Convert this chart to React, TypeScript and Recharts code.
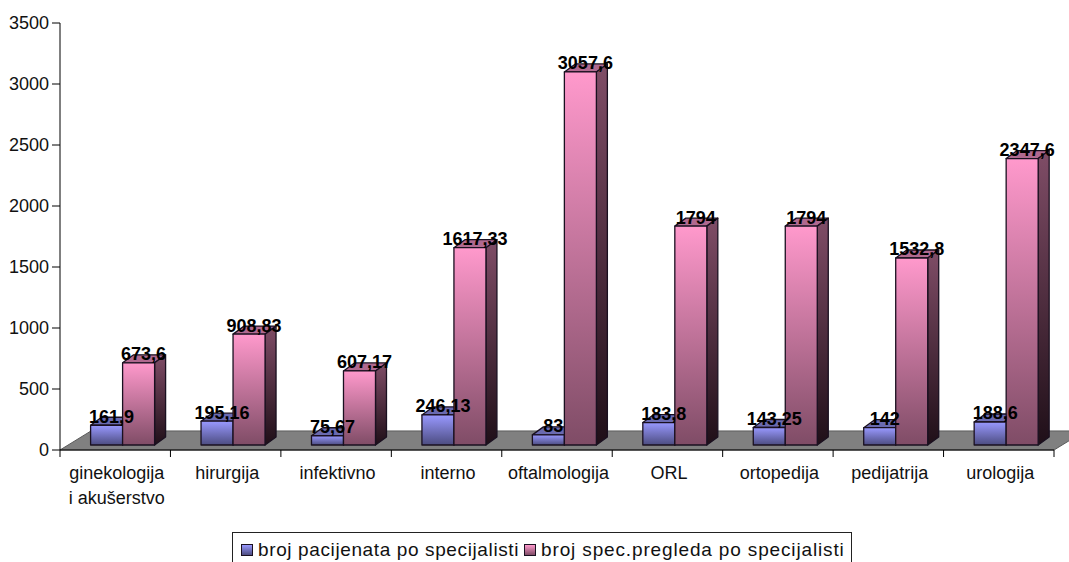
import React from "react";
import { BarChart, Bar, XAxis, YAxis, Legend, LabelList, ReferenceArea } from "recharts";

const categories = ["ginekologija\ni akušerstvo", "hirurgija", "infektivno", "interno", "oftalmologija", "ORL", "ortopedija", "pedijatrija", "urologija"];
const patients = [161.9, 195.16, 75.67, 246.13, 83, 183.8, 143.25, 142, 188.6];
const exams = [673.6, 908.83, 607.17, 1617.33, 3057.6, 1794, 1794, 1532.8, 2347.6];
const yTicks = [0, 500, 1000, 1500, 2000, 2500, 3000, 3500];
const patientsName = "broj pacijenata po specijalisti";
const examsName = "broj spec.pregleda po specijalisti";

const data = categories.map((c, i) => ({ c, patients: patients[i], exams: exams[i] }));

const FONT = '"Liberation Sans", Arial, sans-serif';
const SHIFT_X = 7.6;
const SHIFT_Y = -5;
const DX = 11;
const DY = -8;
const BAND = 994 / 9;

const comma = (v: number) => String(v).replace(".", ",");

function Bar3D(props: any) {
  const { x, y, width, height, kind } = props;
  const l = x + SHIFT_X;
  const t = y + SHIFT_Y;
  const r = l + width;
  const b = t + height;
  const pts = (a: number[][]) => a.map((p) => p.join(",")).join(" ");
  const line = { stroke: "#1a1020", strokeWidth: 1.3, strokeLinejoin: "round" as const };
  return (
    <g>
      <polygon points={pts([[l, t], [r, t], [r + DX, t + DY], [l + DX, t + DY]])} fill={kind === "p" ? "#6a6ab0" : "#b0698f"} {...line} />
      <polygon points={pts([[r, t], [r + DX, t + DY], [r + DX, b + DY], [r, b]])} fill={`url(#side-${kind})`} {...line} />
      <rect x={l} y={t} width={width} height={height} fill={`url(#front-${kind})`} {...line} />
    </g>
  );
}

function Floor(props: any) {
  const { x, y, width, height } = props;
  const d = 31;
  const pts = [[x, y + height], [x + width, y + height], [x + width + d, y], [x + d, y]].map((p) => p.join(",")).join(" ");
  return <polygon points={pts} fill="#808080" stroke="#5a5a5a" strokeWidth={1} />;
}

function ValueLabel(props: any) {
  const { x, y, width, value } = props;
  return (
    <text x={x + width / 2 + SHIFT_X + 5} y={y - 13.5} textAnchor="middle" dominantBaseline="central"
      fontFamily={FONT} fontSize={18} fontWeight="bold" fill="#000">
      {comma(value)}
    </text>
  );
}

function CategoryTick(props: any) {
  const { x, payload, index } = props;
  const lines = String(payload.value).split("\n");
  const last = index === categories.length - 1;
  const axisY = 450;
  return (
    <g>
      <line x1={x - BAND / 2} x2={x - BAND / 2} y1={axisY} y2={axisY + 7} stroke="#000" />
      {last && <line x1={x + BAND / 2} x2={x + BAND / 2} y1={axisY} y2={axisY + 7} stroke="#000" />}
      {lines.map((s, i) => (
        <text key={i} x={x + 1.5} y={axisY + 23 + i * 25} textAnchor="middle" dominantBaseline="central"
          fontFamily={FONT} fontSize={18} fill="#111">
          {s}
        </text>
      ))}
    </g>
  );
}

function LegendBox() {
  const swatch = (bg: string) => (
    <span style={{ display: "inline-block", boxSizing: "border-box", width: 12, height: 12, border: "1.5px solid #1a1020", background: bg, marginRight: 5 }} />
  );
  return (
    <div style={{ boxSizing: "border-box", width: 620, height: 40, border: "1px solid #222", fontFamily: FONT, fontSize: 19, color: "#111", whiteSpace: "nowrap", paddingLeft: 8, paddingTop: 6, lineHeight: "22px", background: "#fff" }}>
      {swatch("linear-gradient(#9999ff,#4c4c80)")}
      <span style={{ letterSpacing: 0.62 }}>{patientsName}</span>
      <span style={{ display: "inline-block", width: 5 }} />
      {swatch("linear-gradient(#ff99cc,#7f4c66)")}
      <span style={{ letterSpacing: 0.85 }}>{examsName}</span>
    </div>
  );
}

export default function App() {
  return (
    <div style={{ position: "absolute", left: 0, top: 0, width: 1069, height: 562, overflow: "hidden", background: "#fff" }}>
      <BarChart width={1069} height={562} data={data} barSize={32} barGap={0} barCategoryGap={23}
        margin={{ top: 23, right: 15, bottom: 62, left: 0 }}>
        <defs>
          <linearGradient id="front-p" x1="0" y1="0" x2="0" y2="1">
            <stop offset="0" stopColor="#9999ff" />
            <stop offset="1" stopColor="#4c4c80" />
          </linearGradient>
          <linearGradient id="side-p" x1="0" y1="0" x2="0" y2="1">
            <stop offset="0" stopColor="#4c4c80" />
            <stop offset="1" stopColor="#1a1a33" />
          </linearGradient>
          <linearGradient id="front-e" x1="0" y1="0" x2="0" y2="1">
            <stop offset="0" stopColor="#ff99cc" />
            <stop offset="1" stopColor="#7f4c66" />
          </linearGradient>
          <linearGradient id="side-e" x1="0" y1="0" x2="0" y2="1">
            <stop offset="0" stopColor="#804d67" />
            <stop offset="1" stopColor="#1f0f18" />
          </linearGradient>
        </defs>
        <ReferenceArea y1={0} y2={156} shape={Floor} />
        <XAxis dataKey="c" height={50} axisLine={{ stroke: "#000" }} tickLine={false} interval={0} tick={CategoryTick} />
        <YAxis width={60} domain={[0, 3500]} ticks={yTicks} tickSize={8} tickMargin={3} interval={0}
          axisLine={{ stroke: "#000" }} tickLine={{ stroke: "#000" }}
          tick={{ fontFamily: FONT, fontSize: 18, fill: "#111" }} />
        <Legend layout="horizontal" verticalAlign="middle" align="center" content={LegendBox}
          wrapperStyle={{ left: 232, top: 532, width: 620, height: 40, margin: 0 }} />
        <Bar dataKey="patients" name={patientsName} isAnimationActive={false} shape={(p: any) => <Bar3D {...p} kind="p" />}>
          <LabelList dataKey="patients" content={ValueLabel} />
        </Bar>
        <Bar dataKey="exams" name={examsName} isAnimationActive={false} shape={(p: any) => <Bar3D {...p} kind="e" />}>
          <LabelList dataKey="exams" content={ValueLabel} />
        </Bar>
      </BarChart>
    </div>
  );
}
